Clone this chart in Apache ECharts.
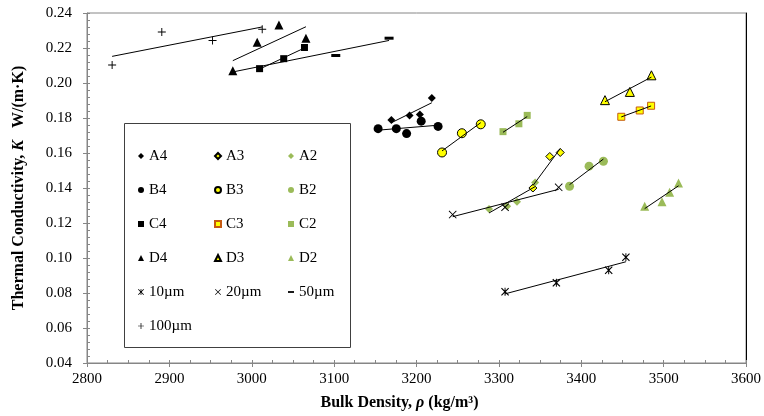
<!DOCTYPE html>
<html>
<head>
<meta charset="utf-8">
<script src="https://cdn.jsdelivr.net/npm/echarts@6/dist/echarts.min.js"></script>
<style>
  html, body { margin: 0; padding: 0; background: #fff; }
  #chart { width: 764px; height: 416px; }
</style>
</head>
<body>
<div id="chart"></div>
<script>
// bulk density (kg/m3) vs thermal conductivity W/(m.K)
var a4 = [[3169.5, 0.1788], [3191.6, 0.1815], [3204.1, 0.1820], [3218.6, 0.1915]];
var a3 = [[3341.3, 0.1400], [3361.8, 0.1580], [3374.5, 0.1603]];
var a2 = [[3288, 0.1280], [3310, 0.1296], [3322, 0.1322], [3344, 0.1432]];
var b4 = [[3153.4, 0.1739], [3175.5, 0.1739], [3188, 0.1711], [3205.7, 0.1782], [3226.2, 0.1752]];
var b3 = [[3231, 0.1603], [3255.1, 0.1713], [3278, 0.1764]];
var b2 = [[3385.8, 0.1410], [3409.5, 0.1525], [3426.9, 0.1553]];
var c4 = [[3009.5, 0.2082], [3038.8, 0.2139], [3064, 0.2203]];
var c3 = [[3448.6, 0.1807], [3471, 0.1843], [3484.8, 0.1870]];
var c2 = [[3305, 0.1722], [3324.3, 0.1767], [3334.4, 0.1815]];
var d4 = [[2977, 0.2070], [3006.6, 0.2233], [3033, 0.2332], [3065.8, 0.2256]];
var d3 = [[3428.8, 0.1902], [3459, 0.1949], [3485.2, 0.2044]];
var d2 = [[3477, 0.1296], [3498, 0.1322], [3507.3, 0.1376], [3518.1, 0.1428]];
var um10 = [[3307.5, 0.0807], [3369.8, 0.0858], [3433.3, 0.0930], [3454.2, 0.1004]];
var um20 = [[3243.9, 0.1248], [3307.5, 0.1290], [3372.6, 0.1404]];
var um50 = [[3102, 0.2157], [3166.7, 0.2256]];
var um100 = [[2830.5, 0.2103], [2890.8, 0.2292], [2952.4, 0.2243], [3012.7, 0.2307]];
// the 50um points at 2977/3009/3039 sit under the D4 and C4 markers
var um50Fit = um50.concat([d4[0], c4[0], c4[1]]);

var xTicks = [2800, 2900, 3000, 3100, 3200, 3300, 3400, 3500, 3600];
var yTicks = [0.04, 0.06, 0.08, 0.10, 0.12, 0.14, 0.16, 0.18, 0.20, 0.22, 0.24];

var GREEN = '#9BBB59', YELLOW = '#FFFF00';
var FONT = '"Liberation Serif", "DejaVu Serif", serif';

var STAR = 'path://M0,1L1,0L5,4L9,0L10,1L6,5L10,9L9,10L5,6L1,10L0,9L4,5Z M4.4,0H5.6V10H4.4Z';
var CROSS = 'path://M0,0.8L0.8,0L5,4.2L9.2,0L10,0.8L5.8,5L10,9.2L9.2,10L5,5.8L0.8,10L0,9.2L4.2,5Z';
var PLUS = 'path://M4.4,0H5.6V4.4H10V5.6H5.6V10H4.4V5.6H0V4.4H4.4Z';
var DASH = 'path://M0,0H10V3H0Z';

// least squares line over the x range of the points (Excel style trendline)
function trend(pts) {
  var n = pts.length, sx = 0, sy = 0, sxx = 0, sxy = 0, lo = Infinity, hi = -Infinity;
  pts.forEach(function(p) {
    sx += p[0]; sy += p[1]; sxx += p[0] * p[0]; sxy += p[0] * p[1];
    lo = Math.min(lo, p[0]); hi = Math.max(hi, p[0]);
  });
  var b = (n * sxy - sx * sy) / (n * sxx - sx * sx);
  var a = (sy - b * sx) / n;
  return [[lo, a + b * lo], [hi, a + b * hi]];
}

var marks = [
  { name: 'A4', data: a4, symbol: 'diamond', size: 8, color: '#000' },
  { name: 'A3', data: a3, symbol: 'diamond', size: 8, color: YELLOW, border: '#000' },
  { name: 'A2', data: a2, symbol: 'diamond', size: 8, color: GREEN },
  { name: 'B4', data: b4, symbol: 'circle', size: 9, color: '#000' },
  { name: 'B3', data: b3, symbol: 'circle', size: 9, color: YELLOW, border: '#000' },
  { name: 'B2', data: b2, symbol: 'circle', size: 9, color: GREEN },
  { name: 'C4', data: c4, symbol: 'rect', size: 7, color: '#000' },
  { name: 'C3', data: c3, symbol: 'rect', size: 7, color: YELLOW, border: '#C55A11' },
  { name: 'C2', data: c2, symbol: 'rect', size: 7, color: GREEN },
  { name: 'D4', data: d4, symbol: 'triangle', size: 9, color: '#000' },
  { name: 'D3', data: d3, symbol: 'triangle', size: 9, color: YELLOW, border: '#000' },
  { name: 'D2', data: d2, symbol: 'triangle', size: 9, color: GREEN },
  { name: '10µm', data: um10, symbol: STAR, size: 8, color: '#000' },
  { name: '20µm', data: um20, symbol: CROSS, size: 8, color: '#000' },
  { name: '50µm', data: um50, fit: um50Fit, symbol: DASH, size: [9, 3], color: '#000' },
  { name: '100µm', data: um100, symbol: PLUS, size: 8, color: '#000' }
];

var series = [];
marks.forEach(function(m) {
  series.push({
    name: m.name, type: 'scatter', data: m.data, z: 2,
    symbol: m.symbol, symbolSize: m.size,
    itemStyle: { color: m.color, borderColor: m.border || m.color, borderWidth: m.border ? 1 : 0, opacity: 1 },
    emphasis: { disabled: true }
  });
  series.push({
    type: 'line', data: trend(m.fit || m.data), z: 3, silent: true,
    showSymbol: false, symbol: 'none',
    lineStyle: { color: '#000', width: 1 }
  });
});

function legendCol(names, left) {
  return {
    orient: 'vertical', left: left, top: 143, itemGap: 18,
    itemWidth: 6, itemHeight: 6, selectedMode: false,
    data: names,
    textStyle: { fontFamily: FONT, fontSize: 15, color: '#000', lineHeight: 16 }
  };
}

var chart = echarts.init(document.getElementById('chart'), null, { renderer: 'canvas' });
chart.setOption({
  animation: false,
  backgroundColor: '#fff',
  grid: { left: 87, right: 14, top: 13, bottom: 51, show: true, borderColor: '#868686', borderWidth: 1 },
  legend: [
    legendCol(['A4', 'B4', 'C4', 'D4', '10µm', '100µm'], 133),
    legendCol(['A3', 'B3', 'C3', 'D3', '20µm'], 209),
    legendCol(['A2', 'B2', 'C2', 'D2', '50µm'], 283)
  ],
  graphic: [{
    type: 'rect', left: 124, top: 123, z: 0,
    shape: { width: 226, height: 224 },
    style: { fill: '#fff', stroke: '#404040', lineWidth: 1 }
  }],
  xAxis: [{
    type: 'value', min: xTicks[0], max: xTicks[xTicks.length - 1], interval: 100,
    name: '{b|Bulk Density, }{bi|ρ}{b| (kg/m³)}',
    nameLocation: 'middle', nameGap: 32,
    nameTextStyle: {
      padding: [0, 34, 0, 0],
      rich: {
        b: { fontFamily: FONT, fontWeight: 'bold', fontSize: 16, color: '#000' },
        bi: { fontFamily: FONT, fontWeight: 'bold', fontStyle: 'italic', fontSize: 16, color: '#000' }
      }
    },
    axisLine: { lineStyle: { color: '#868686' } },
    axisTick: { show: true, length: 4, lineStyle: { color: '#868686' } },
    axisLabel: { fontFamily: FONT, fontSize: 15, color: '#000', margin: 9,
      formatter: function(v) { return String(v); } },
    splitLine: { show: false }
  }, {
    // inside minor ticks along the bottom edge
    type: 'value', position: 'bottom', min: xTicks[0], max: xTicks[xTicks.length - 1], interval: 100,
    axisLine: { show: false },
    axisTick: { show: true, inside: true, length: 3, lineStyle: { color: '#868686' } },
    minorTick: { show: true, splitNumber: 4, length: 3, lineStyle: { color: '#868686' } },
    axisLabel: { show: false }, splitLine: { show: false }
  }],
  yAxis: [{
    type: 'value', min: yTicks[0], max: yTicks[yTicks.length - 1], interval: 0.02,
    name: '{b|Thermal Conductivity, }{bi|K}{b|   W/(m·K)}',
    nameLocation: 'middle', nameGap: 60, nameRotate: 90,
    nameTextStyle: {
      rich: {
        b: { fontFamily: FONT, fontWeight: 'bold', fontSize: 16, color: '#000' },
        bi: { fontFamily: FONT, fontWeight: 'bold', fontStyle: 'italic', fontSize: 16, color: '#000' }
      }
    },
    axisLine: { show: true, lineStyle: { color: '#868686' } },
    axisTick: { show: true, length: 4, lineStyle: { color: '#868686' } },
    axisLabel: { fontFamily: FONT, fontSize: 15, color: '#000', margin: 15,
      formatter: function(v) { return v.toFixed(2); } },
    splitLine: { show: false }
  }, {
    type: 'value', position: 'left', min: yTicks[0], max: yTicks[yTicks.length - 1], interval: 0.02,
    axisLine: { show: false },
    axisTick: { show: true, inside: true, length: 3, lineStyle: { color: '#868686' } },
    minorTick: { show: true, splitNumber: 5, length: 3, lineStyle: { color: '#868686' } },
    axisLabel: { show: false }, splitLine: { show: false }
  }, {
    // dark right edge of the plot frame
    type: 'value', position: 'right', min: yTicks[0], max: yTicks[yTicks.length - 1],
    axisLine: { show: true, lineStyle: { color: '#000' } },
    axisTick: { show: false }, axisLabel: { show: false }, splitLine: { show: false }
  }],
  series: series
});
</script>
</body>
</html>
